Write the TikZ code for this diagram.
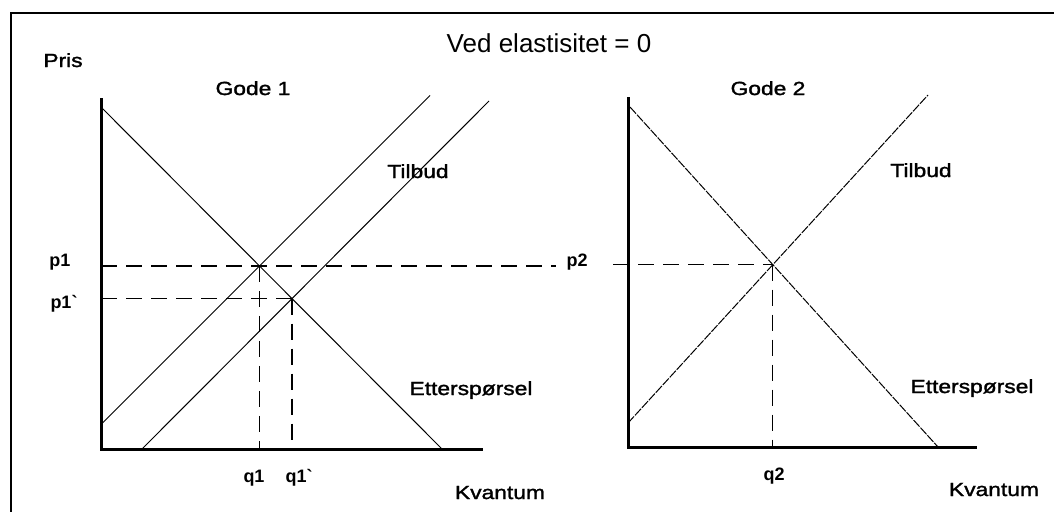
\documentclass[tikz,border=0pt]{standalone}
\usepackage{fontspec}
\setmainfont{Liberation Sans}
\newfontfamily\lblfont[FakeStretch=1.2,FakeBold=1.6]{Liberation Sans}
\newfontfamily\valfont[Ligatures=TeXOff]{Liberation Sans Bold}
\usetikzlibrary{intersections}
\begin{document}
\begin{tikzpicture}[x=1pt,y=-1pt,
  frameline/.style={line width=2.2pt},
  axisline/.style={line width=3pt},
  curve/.style={line width=1pt},
  curvetwo/.style={line width=1pt, dash pattern=on 9pt off 1.3pt},
  guide/.style={line width=1.3pt, dash pattern=on 16pt off 9pt},
  lbl/.style={font=\lblfont\fontsize{19}{22}\selectfont, anchor=base, inner sep=0pt},
  val/.style={font=\valfont\fontsize{18}{21}\selectfont, anchor=base, inner sep=0pt},
  ttl/.style={font=\fontsize{26}{30}\selectfont, anchor=base, inner sep=0pt}]
\useasboundingbox (0,0) rectangle (1054,512);
\fill[white] (0,0) rectangle (1054,512);
% frame
\coordinate (fTL) at (11,13);
\coordinate (fTR) at (1054,13);
\coordinate (fBL) at (11,512);
\draw[frameline] (fTR) -- (fTL) -- (fBL);
% ---------- chart 1 ----------
\coordinate (o1) at (101,449);
\coordinate (y1) at (101,98);
\coordinate (x1) at (483,449);
\coordinate (d1a) at (101,107);
\coordinate (d1b) at (442,449);
\coordinate (s1a) at (101,424.5);
\coordinate (s1b) at (430,95.5);
\coordinate (s2a) at (142,449);
\coordinate (s2b) at (489,101);
\draw[curve, name path=D1] (d1a) -- (d1b);
\draw[curve, name path=S1] (s1a) -- (s1b);
\draw[curve, name path=S2] (s2a) -- (s2b);
\path[name intersections={of=D1 and S1, by=E1}];
\path[name intersections={of=D1 and S2, by=E2}];
\coordinate (p1x) at (556,0);
\draw[guide] (y1 |- E1) -- (p1x |- E1);
\draw[guide] (y1 |- E2) -- (E2);
\draw[guide] (E1) -- (o1 -| E1);
\draw[guide] (E2) -- (o1 -| E2);
\draw[axisline] (y1) -- (o1) -- (x1);
% ---------- chart 2 ----------
\coordinate (o2) at (628,447);
\coordinate (y2) at (628,97);
\coordinate (x2) at (977,447);
\coordinate (d2a) at (630,107);
\coordinate (d2b) at (938,447);
\coordinate (s3a) at (628,423);
\coordinate (s3b) at (928,95);
\draw[curvetwo, name path=D2] (d2a) -- (d2b);
\draw[curvetwo, name path=S3] (s3a) -- (s3b);
\path[name intersections={of=D2 and S3, by=E3}];
\coordinate (p2x) at (613,0);
\draw[guide] (p2x |- E3) -- (E3);
\draw[guide] (E3) -- (o2 -| E3);
\draw[axisline] (y2) -- (o2) -- (x2);
% ---------- texts ----------
\node[ttl] (title) at (549,52) {Ved elastisitet = 0};
\node[lbl] (pris) at (63,67) {Pris};
\node[lbl] (gode1) at (253,95) {Gode 1};
\node[lbl] (gode2) at (768,95) {Gode 2};
\node[lbl] (tilbud1) at (418,178) {Tilbud};
\node[lbl] (tilbud2) at (921,177) {Tilbud};
\node[lbl] (ett1) at (471,395) {Etterspørsel};
\node[lbl] (ett2) at (972,393) {Etterspørsel};
\node[lbl] (kv1) at (500,499) {Kvantum};
\node[lbl] (kv2) at (994,496) {Kvantum};
\node[val] (p1) at (60,266) {p1};
\node[val] (p1b) at (64,308) {p1`};
\node[val] (p2) at (577,266) {p2};
\node[val] (q1) at (254,482) {q1};
\node[val] (q1b) at (299,482) {q1`};
\node[val] (q2) at (774,480) {q2};
\end{tikzpicture}
\end{document}
